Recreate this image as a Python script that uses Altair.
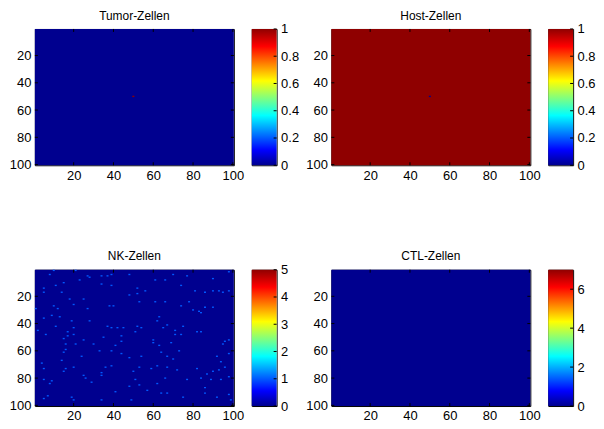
import altair as alt
import pandas as pd

# ---------------- data ----------------
titles = ["Tumor-Zellen", "Host-Zellen", "NK-Zellen", "CTL-Zellen"]
color_max = [1, 1, 5, 7]
background_value = [0, 1, 0, 0]
cbar_ticks = [
    [0, 0.2, 0.4, 0.6, 0.8, 1],
    [0, 0.2, 0.4, 0.6, 0.8, 1],
    [0, 1, 2, 3, 4, 5],
    [0, 2, 4, 6],
]
axis_ticks = [20, 40, 60, 80, 100]

tumor_cols = [50]
tumor_rows = [50]
tumor_vals = [1]

host_cols = [50]
host_rows = [50]
host_vals = [0]

nk_cols = [10, 21, 23, 27, 28, 34, 37, 39, 48, 70, 61, 66, 77, 90, 98, 8,
           15, 11, 5, 14, 34, 39, 52, 56, 48, 74, 90, 93, 98, 86, 81, 5,
           18, 20, 25, 27, 38, 40, 53, 52, 61, 66, 74, 78, 80, 83, 84, 86, 90, 95, 1, 10, 12, 9, 13,
           5, 11, 19, 20, 28, 37, 39, 42, 45, 52, 54, 62, 63, 67, 65, 71, 82, 84, 75, 17,
           2, 6, 15, 17, 20, 25, 30, 35, 44, 44, 51, 60, 60, 63, 71, 74, 69, 96, 95, 98,
           16, 16, 21, 15, 24, 33, 39, 41, 44, 48, 54, 64, 67, 70, 73, 92, 94, 98, 4, 14,
           5, 15, 16, 20, 34, 36, 39, 50, 53, 59, 62, 67, 72, 82, 87, 90, 93, 96,
           5, 8, 9, 25, 26, 29, 34, 51, 48, 53, 57, 62, 66, 77, 84, 86, 89, 94, 98,
           7, 5, 19, 20, 34, 41, 49, 64, 67, 75, 86, 92, 98, 99]
nk_rows = [1, 1, 8, 5, 6, 5, 5, 4, 4, 4, 8, 8, 5, 7, 2, 4,
           10, 12, 14, 17, 11, 12, 14, 16, 19, 12, 16, 16, 16, 17, 16, 17,
           22, 26, 22, 29, 27, 27, 24, 18, 24, 24, 27, 24, 30, 31, 32, 28, 28, 17, 29, 27, 29, 34, 35,
           36, 42, 38, 43, 38, 42, 43, 43, 43, 42, 43, 38, 35, 41, 43, 45, 46, 46, 42, 46,
           45, 48, 51, 49, 48, 52, 55, 50, 49, 53, 46, 52, 54, 56, 48, 48, 54, 53, 55, 52,
           55, 59, 55, 61, 64, 60, 60, 56, 62, 65, 64, 61, 64, 66, 60, 64, 68, 62, 69, 67,
           73, 75, 73, 72, 76, 72, 71, 75, 72, 73, 71, 72, 74, 73, 77, 75, 74, 72,
           81, 84, 82, 78, 80, 83, 78, 81, 86, 85, 89, 84, 80, 81, 80, 87, 81, 81, 79,
           93, 95, 94, 96, 96, 90, 96, 91, 91, 94, 91, 94, 92, 96]
nk_vals = [1] * len(nk_cols)

ctl_cols = []
ctl_rows = []
ctl_vals = []

panel_cells = [
    (tumor_cols, tumor_rows, tumor_vals),
    (host_cols, host_rows, host_vals),
    (nk_cols, nk_rows, nk_vals),
    (ctl_cols, ctl_rows, ctl_vals),
]

# MATLAB jet colormap key points (64 entries)
JET_POS = [0, 7 / 63, 23 / 63, 39 / 63, 55 / 63, 1]
JET_COL = ["#00008F", "#0000FF", "#00FFFF", "#FFFF00", "#FF0000", "#8F0000"]

# ---------------- layout ----------------
W, H = 200, 137
CB_W = 25
SP_W = 19
TICK = 3
FONT = "Liberation Sans"
LABEL_SIZE = 13

axis_common = dict(title=None, ticks=False, domain=False, labelFont=FONT,
                   labelFontSize=LABEL_SIZE, labelColor="black", grid=False,
                   labelOverlap=False)


def heat(i):
    cols, rows, vals = panel_cells[i]
    dom = [color_max[i] * p for p in JET_POS]
    color = alt.Color("v:Q", scale=alt.Scale(domain=dom, range=JET_COL,
                                             interpolate="rgb"), legend=None)
    xs = alt.Scale(domain=[0.5, 100.5], nice=False, zero=False)
    ys = alt.Scale(domain=[0.5, 100.5], nice=False, zero=False, reverse=True)
    x_axis = alt.Axis(values=axis_ticks, labelFlush=False, labelPadding=4, **axis_common)
    y_axis = alt.Axis(values=axis_ticks, labelPadding=4, **axis_common)

    bg_df = pd.DataFrame({"x0": [0.5], "x1": [100.5], "y0": [0.5], "y1": [100.5],
                          "v": [background_value[i]]})
    bg = alt.Chart(bg_df).mark_rect().encode(
        x=alt.X("x0:Q", scale=xs, axis=x_axis),
        x2="x1:Q",
        y=alt.Y("y0:Q", scale=ys, axis=y_axis),
        y2="y1:Q",
        color=color,
    )
    layers = [bg]
    if len(cols) > 0:
        df = pd.DataFrame({"col": cols, "row": rows, "v": vals})
        cells = alt.Chart(df).transform_calculate(
            xa="datum.col - 0.5", xb="datum.col + 0.5",
            ya="datum.row - 0.5", yb="datum.row + 0.5",
        ).mark_rect().encode(
            x=alt.X("xa:Q", scale=xs, axis=x_axis),
            x2="xb:Q",
            y=alt.Y("ya:Q", scale=ys, axis=y_axis),
            y2="yb:Q",
            color=color,
        )
        layers.append(cells)

    # inward tick marks on all four sides (MATLAB style)
    tdf = pd.DataFrame({"t": axis_ticks})
    tick_style = dict(color="black", strokeWidth=1)
    layers += [
        alt.Chart(tdf).mark_rule(**tick_style).encode(
            x=alt.X("t:Q", scale=xs, axis=x_axis), y=alt.value(H - TICK), y2=alt.value(H)),
        alt.Chart(tdf).mark_rule(**tick_style).encode(
            x=alt.X("t:Q", scale=xs, axis=x_axis), y=alt.value(0), y2=alt.value(TICK)),
        alt.Chart(tdf).mark_rule(**tick_style).encode(
            y=alt.Y("t:Q", scale=ys, axis=y_axis), x=alt.value(0), x2=alt.value(TICK)),
        alt.Chart(tdf).mark_rule(**tick_style).encode(
            y=alt.Y("t:Q", scale=ys, axis=y_axis), x=alt.value(W - TICK), x2=alt.value(W)),
    ]
    return alt.layer(*layers).properties(
        width=W, height=H,
        title=alt.TitleParams(titles[i], font=FONT, fontSize=12, fontWeight="normal",
                              color="black", anchor="middle", offset=6),
        view=alt.ViewBackground(stroke="black", strokeWidth=1),
    )


def cbar(i):
    df = pd.DataFrame({"lo": [0], "hi": [color_max[i]]})
    grad = alt.LinearGradient(
        gradient="linear",
        stops=[alt.GradientStop(offset=p, color=c) for p, c in zip(JET_POS, JET_COL)],
        x1=0, x2=0, y1=1, y2=0,
    )
    ys = alt.Scale(domain=[0, color_max[i]], nice=False, zero=False)
    c_axis = alt.Axis(orient="right", values=cbar_ticks[i], format="~g",
                      labelPadding=4, **axis_common)
    bar = alt.Chart(df).mark_rect(fill=grad).encode(
        y=alt.Y("lo:Q", scale=ys, axis=c_axis),
        y2="hi:Q",
        x=alt.value(0),
        x2=alt.value(CB_W),
    )
    tdf = pd.DataFrame({"t": cbar_ticks[i]})
    ticks = alt.Chart(tdf).mark_rule(color="black", strokeWidth=1).encode(
        y=alt.Y("t:Q", scale=ys, axis=c_axis), x=alt.value(CB_W - TICK), x2=alt.value(CB_W))
    return alt.layer(bar, ticks).properties(
        width=CB_W, height=H,
        view=alt.ViewBackground(stroke="black", strokeWidth=1))


spacer = alt.Chart(pd.DataFrame({"a": [0]})).mark_point(opacity=0).encode(
    x=alt.X("a:Q", axis=None), y=alt.Y("a:Q", axis=None)
).properties(width=SP_W, height=H)

items = [heat(0), cbar(0), spacer, heat(1), cbar(1),
         heat(2), cbar(2), spacer, heat(3), cbar(3)]

chart = alt.concat(
    *items, columns=5, spacing={"row": 105, "column": 18}, bounds="flush"
).resolve_scale(color="independent").properties(
    padding=0, background="white"
).configure_view(stroke="transparent")

chart.save("out.html", embed_options={"renderer": "svg", "actions": False})
